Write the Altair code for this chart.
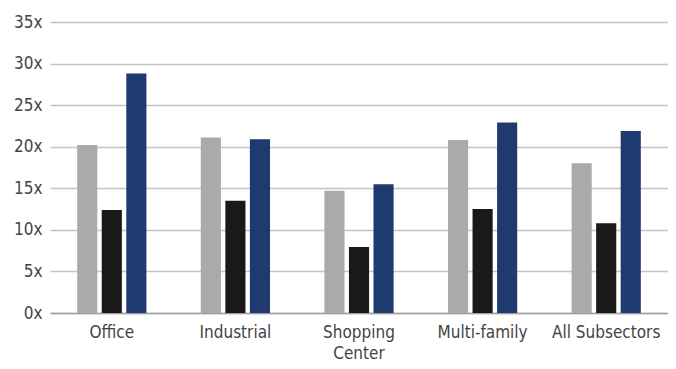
import altair as alt
import pandas as pd

categories = ["Office", "Industrial", "Shopping Center", "Multi-family", "All Subsectors"]
series = ["A", "B", "C"]
values_a = [20.2, 21.1, 14.7, 20.8, 18.0]
values_b = [12.4, 13.5, 7.95, 12.5, 10.8]
values_c = [28.8, 20.9, 15.5, 22.9, 21.9]
colors = ["#A9AAA9", "#1A1919", "#1F3A6E"]

rows = []
for i, c in enumerate(categories):
    for s, vals in zip(series, [values_a, values_b, values_c]):
        rows.append({"category": c, "series": s, "value": vals[i]})
df = pd.DataFrame(rows)

FONT = "'DejaVu Sans Condensed', Roboto, sans-serif"

chart = alt.Chart(df).mark_bar().encode(
    x=alt.X("category:N", sort=categories, title=None,
            scale=alt.Scale(paddingInner=0.44, paddingOuter=0.22),
            axis=alt.Axis(labelAngle=0, labelFontSize=17, labelFont=FONT, labelColor="#444444",
                          ticks=False, domainColor="#a0a0a0", domainWidth=1.5, labelPadding=11,
                          labelLineHeight=21,
                          labelExpr="datum.label == 'Shopping Center' ? ['Shopping', 'Center'] : datum.label")),
    xOffset=alt.XOffset("series:N", sort=series,
                        scale=alt.Scale(paddingInner=0.18, paddingOuter=0)),
    y=alt.Y("value:Q", title=None,
            scale=alt.Scale(domain=[0, 35], nice=False),
            axis=alt.Axis(values=[0, 5, 10, 15, 20, 25, 30, 35], labelExpr="datum.value + 'x'",
                          labelFontSize=17, labelFont=FONT, labelColor="#444444",
                          ticks=False, domain=False, gridColor="#c4c4c4", gridWidth=1.5,
                          labelPadding=8)),
    color=alt.Color("series:N", sort=series, legend=None,
                    scale=alt.Scale(domain=series, range=colors)),
).properties(
    width=660, height=353,
    autosize=alt.AutoSizeParams(type="fit", contains="padding"),
    padding={"left": 5, "top": 5, "right": 0, "bottom": 0},
).configure_view(stroke=None)

chart.save("out.html", embed_options={"renderer": "svg", "actions": False})
